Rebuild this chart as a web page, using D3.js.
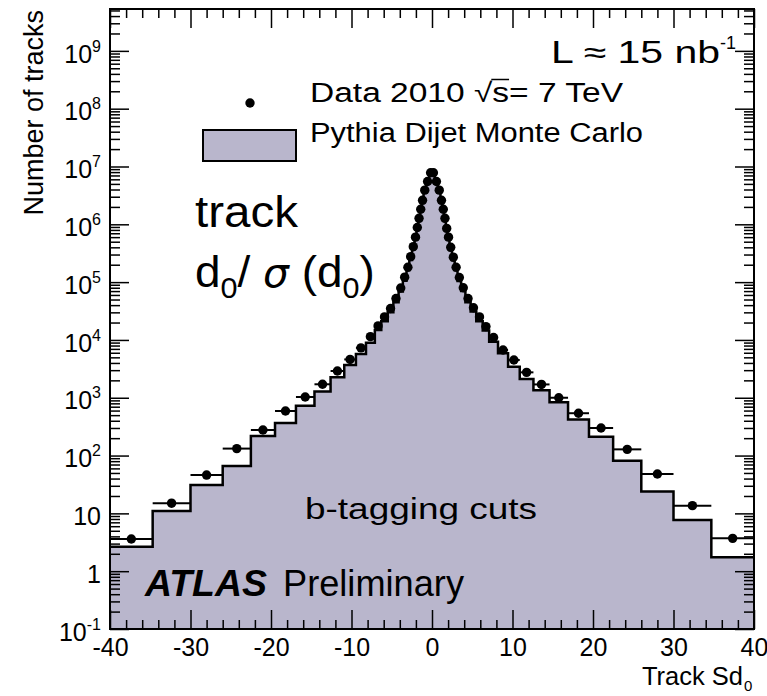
<!DOCTYPE html>
<html>
<head>
<meta charset="utf-8">
<script src="https://cdn.jsdelivr.net/npm/d3@7"></script>
<style>
  body { margin: 0; background: #fff; }
  text { font-family: "Liberation Sans", Arial, Helvetica, sans-serif; fill: #000; }
</style>
</head>
<body>
<div id="chart"></div>
<script>
// Bin edges of the track Sd0 histogram (variable width, finer near 0)
const binEdges = [-40, -34.7, -30, -26, -22.5, -19.5, -16.9, -14.6, -12.6, -10.9, -9.45, -8.2, -7.1, -6.3, -5.5,
  -4.8, -4.15, -3.62, -3.17, -2.82, -2.48, -2.17, -1.93, -1.72, -1.5, -1.3, -1.05, -0.75, -0.35, 0,
  0.35, 0.75, 1.05, 1.3, 1.5, 1.72, 1.93, 2.17, 2.48, 2.82, 3.17, 3.62, 4.15, 4.8, 5.5,
  6.3, 7.1, 8.2, 9.45, 10.9, 12.6, 14.6, 16.9, 19.5, 22.5, 26, 30, 34.7, 40];

// Data 2010 (points), one per bin
const dataCounts = [3.6, 15, 46, 132, 277, 590, 1030, 1710, 2900, 4600, 7300, 11400, 17500, 25000, 35000,
  52000, 79000, 122000, 181000, 276000, 410000, 600000, 880000, 1270000, 1820000, 2600000, 3900000, 5500000, 7800000,
  7800000, 5500000, 3900000, 2600000, 1820000, 1270000, 850000, 600000, 400000, 270000, 181000, 120000, 80000, 52000,
  36000, 25000, 17000, 11000, 6700, 4500, 2750, 1700, 1000, 540, 300, 128, 48, 13.6, 3.7];

// Pythia dijet Monte Carlo (filled histogram), one per bin
const mcCounts = [2.65, 11, 31, 66, 218, 365, 725, 1280, 2260, 3690, 5730, 8980, 14800, 21000, 30000,
  45000, 69000, 106000, 160000, 242000, 365000, 540000, 790000, 1150000, 1650000, 2400000, 3600000, 5200000, 7400000,
  7400000, 5200000, 3600000, 2400000, 1650000, 1150000, 770000, 540000, 360000, 240000, 160000, 105000, 70000, 45000,
  31000, 21000, 14500, 9300, 5890, 3450, 2110, 1350, 840, 420, 212, 81, 23.8, 7.7, 1.74];

// Tick labels
const xMajorTicks = [-40, -30, -20, -10, 0, 10, 20, 30, 40];
const xTickLabels = ["-40", "-30", "-20", "-10", "0", "10", "20", "30", "40"];
const yMajorTicks = [0.1, 1, 10, 1e2, 1e3, 1e4, 1e5, 1e6, 1e7, 1e8, 1e9];
const yTickBase = ["10", "1", "10", "10", "10", "10", "10", "10", "10", "10", "10"];
const yTickExp = ["-1", "", "", "2", "3", "4", "5", "6", "7", "8", "9"];

const width = 767;
const height = 696;
const plotL = 110, plotR = 754, plotT = 9, plotB = 629;
const fill = "#b9b6cc";

const svg = d3.select("#chart")
  .append("svg")
  .attr("width", width)
  .attr("height", height);

const x = d3.scaleLinear().domain([-40, 40]).range([plotL, plotR]);
const y = d3.scaleLog().domain([0.1, 5.3e9]).range([plotB, plotT]);

// bins as objects
const bins = dataCounts.map((d, i) => ({
  x0: binEdges[i], x1: binEdges[i + 1], data: d, mc: mcCounts[i]
}));

// step outline of the MC histogram
const steps = [];
bins.forEach(b => {
  steps.push({ x: b.x0, v: b.mc });
  steps.push({ x: b.x1, v: b.mc });
});

svg.append("path")
  .datum(steps)
  .attr("fill", fill)
  .attr("d", d3.area().x(d => x(d.x)).y0(plotB).y1(d => y(d.v)));

svg.append("path")
  .datum(steps)
  .attr("fill", "none")
  .attr("stroke", "#000")
  .attr("stroke-width", 2.5)
  .attr("d", d3.line().x(d => x(d.x)).y(d => y(d.v)));

// axes: ticks point inwards on all four sides
const xMinor = d3.range(-40, 41, 2).filter(v => v % 10 !== 0);
const yMinor = y.ticks(40).filter(v => !yMajorTicks.some(t => Math.abs(t - v) / t < 1e-6));

function styleAxis(g) {
  g.select(".domain").remove();
  g.selectAll(".tick line").attr("stroke", "#000").attr("stroke-width", 1.5);
  g.attr("font-family", null).attr("font-size", null);
}

svg.append("g").attr("transform", `translate(0,${plotB})`)
  .call(d3.axisBottom(x).tickValues(xMinor).tickSize(-9).tickFormat(""))
  .call(styleAxis);
svg.append("g").attr("transform", `translate(0,${plotB})`)
  .call(d3.axisBottom(x).tickValues(xMajorTicks).tickSize(-19).tickPadding(9)
    .tickFormat((d, i) => xTickLabels[i]))
  .call(styleAxis)
  .selectAll(".tick text").attr("font-size", 25);

svg.append("g").attr("transform", `translate(0,${plotT})`)
  .call(d3.axisTop(x).tickValues(xMinor).tickSize(-9).tickFormat(""))
  .call(styleAxis);
svg.append("g").attr("transform", `translate(0,${plotT})`)
  .call(d3.axisTop(x).tickValues(xMajorTicks).tickSize(-19).tickFormat(""))
  .call(styleAxis);

svg.append("g").attr("transform", `translate(${plotL},0)`)
  .call(d3.axisLeft(y).tickValues(yMinor).tickSize(-10).tickFormat(""))
  .call(styleAxis);
const yAxisG = svg.append("g").attr("transform", `translate(${plotL},0)`)
  .call(d3.axisLeft(y).tickValues(yMajorTicks).tickSize(-19).tickPadding(9).tickFormat(""))
  .call(styleAxis);

yAxisG.selectAll(".tick text").each(function (d, i) {
  const t = d3.select(this).attr("font-size", 25).attr("dy", "0.45em");
  t.append("tspan").text(yTickBase[i]);
  if (yTickExp[i]) t.append("tspan").attr("font-size", 16).attr("dy", -11).text(yTickExp[i]);
});

svg.append("g").attr("transform", `translate(${plotR},0)`)
  .call(d3.axisRight(y).tickValues(yMinor).tickSize(-10).tickFormat(""))
  .call(styleAxis);
svg.append("g").attr("transform", `translate(${plotR},0)`)
  .call(d3.axisRight(y).tickValues(yMajorTicks).tickSize(-19).tickFormat(""))
  .call(styleAxis);

// frame
svg.append("rect")
  .attr("x", plotL).attr("y", plotT)
  .attr("width", plotR - plotL).attr("height", plotB - plotT)
  .attr("fill", "none").attr("stroke", "#000").attr("stroke-width", 2);

// data points with horizontal (bin width) error bars
svg.append("g").selectAll("line")
  .data(bins)
  .enter()
  .append("line")
  .attr("x1", d => x(d.x0))
  .attr("x2", d => x(d.x1))
  .attr("y1", d => y(d.data))
  .attr("y2", d => y(d.data))
  .attr("stroke", "#000")
  .attr("stroke-width", 2);

svg.append("g").selectAll("circle")
  .data(bins)
  .enter()
  .append("circle")
  .attr("cx", d => x((d.x0 + d.x1) / 2))
  .attr("cy", d => y(d.data))
  .attr("r", 4.7)
  .attr("fill", "#000");

// axis titles
svg.append("text")
  .attr("transform", "translate(43,10) rotate(-90)")
  .attr("text-anchor", "end")
  .attr("font-size", 27)
  .text("Number of tracks");

const xt = svg.append("text")
  .attr("x", 642).attr("y", 685)
  .attr("font-size", 25)
  .attr("textLength", 101).attr("lengthAdjust", "spacingAndGlyphs");
xt.append("tspan").text("Track Sd");
svg.append("text")
  .attr("x", 744).attr("y", 691)
  .attr("font-size", 15)
  .text("0");

// luminosity
const lumi = svg.append("text").attr("x", 551).attr("y", 63).attr("font-size", 31);
lumi.append("tspan").attr("textLength", 169).attr("lengthAdjust", "spacingAndGlyphs").text("L \u2248 15 nb");
lumi.append("tspan").attr("font-size", 18).attr("dy", -14).text("-1");

// legend
svg.append("circle").attr("cx", 250).attr("cy", 103).attr("r", 4.7).attr("fill", "#000");
svg.append("rect")
  .attr("x", 203).attr("y", 130).attr("width", 93).attr("height", 31)
  .attr("fill", fill).attr("stroke", "#000").attr("stroke-width", 2);

const dataLabel = svg.append("text")
  .attr("x", 310).attr("y", 102).attr("font-size", 27)
  .attr("textLength", 313).attr("lengthAdjust", "spacingAndGlyphs")
  .text("Data 2010 \u221As= 7 TeV");
const sExt = dataLabel.node().getExtentOfChar(11);
const rExt = dataLabel.node().getExtentOfChar(10);
svg.append("line")
  .attr("x1", rExt.x + rExt.width - 1).attr("x2", sExt.x + sExt.width)
  .attr("y1", rExt.y + 1.5).attr("y2", rExt.y + 1.5)
  .attr("stroke", "#000").attr("stroke-width", 1.5);

svg.append("text")
  .attr("x", 310).attr("y", 142).attr("font-size", 27)
  .attr("textLength", 333).attr("lengthAdjust", "spacingAndGlyphs")
  .text("Pythia Dijet Monte Carlo");

// variable label (Gill Sans style)
svg.append("text")
  .attr("x", 195).attr("y", 227)
  .attr("font-family", "Lato, 'Open Sans', sans-serif")
  .attr("font-size", 44)
  .attr("textLength", 103).attr("lengthAdjust", "spacingAndGlyphs")
  .text("track");

const dl = svg.append("text")
  .attr("transform", "translate(195,287) scale(1.02,1)")
  .attr("font-family", "Lato, 'Open Sans', sans-serif")
  .attr("font-size", 45);
dl.append("tspan").text("d");
dl.append("tspan").attr("font-size", 30).attr("dy", 11).text("0");
dl.append("tspan").attr("dy", -11).text("/ ");
dl.append("tspan").attr("font-style", "italic").attr("font-family", "'DejaVu Sans', sans-serif").attr("font-size", 40).text("\u03C3");
dl.append("tspan").text(" (d");
dl.append("tspan").attr("font-size", 30).attr("dy", 11).text("0");
dl.append("tspan").attr("dy", -11).text(")");

svg.append("text")
  .attr("x", 305).attr("y", 519).attr("font-size", 30)
  .attr("textLength", 232).attr("lengthAdjust", "spacingAndGlyphs")
  .text("b-tagging cuts");

svg.append("text")
  .attr("x", 145).attr("y", 596).attr("font-size", 36)
  .attr("font-weight", "bold").attr("font-style", "italic")
  .attr("textLength", 122).attr("lengthAdjust", "spacingAndGlyphs")
  .text("ATLAS");
svg.append("text")
  .attr("x", 283).attr("y", 596).attr("font-size", 36)
  .attr("textLength", 181).attr("lengthAdjust", "spacingAndGlyphs")
  .text("Preliminary");
</script>
</body>
</html>
